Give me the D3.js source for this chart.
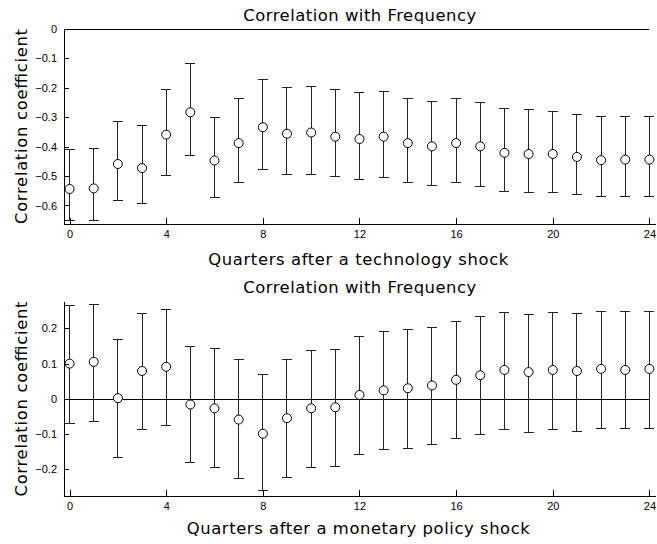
<!DOCTYPE html>
<html lang="en">
<head>
<meta charset="utf-8">
<title>Correlation with Frequency</title>
<script src="https://cdn.jsdelivr.net/npm/d3@7"></script>
<style>
  body { margin: 0; background: #fff; }
  .title, .xlabel, .ylabel { font-family: "DejaVu Sans", sans-serif; font-size: 16.4px; fill: #000; }
  .tick text { font-family: "Liberation Sans", Arial, sans-serif; font-size: 11px; fill: #000; }
  .tick line, .axisline, .zero { stroke: #000; stroke-width: 1; shape-rendering: crispEdges; }
  .bar, .cap { stroke: #222; stroke-width: 1; shape-rendering: crispEdges; }
  .pt { fill: #fff; stroke: #000; stroke-width: 1; }
</style>
</head>
<body>
<script>
var w = 657, h = 544;

var quarters = d3.range(0, 25);
var xTicks = [0, 4, 8, 12, 16, 20, 24];

// technology shock
var techMean  = [-0.544, -0.542, -0.459, -0.473, -0.359, -0.283, -0.447, -0.388, -0.334, -0.356, -0.352, -0.366, -0.374,
                 -0.366, -0.388, -0.399, -0.388, -0.399, -0.421, -0.425, -0.425, -0.435, -0.446, -0.444, -0.444];
var techUpper = [-0.410, -0.407, -0.316, -0.327, -0.205, -0.116, -0.300, -0.236, -0.172, -0.198, -0.195, -0.207, -0.216,
                 -0.212, -0.237, -0.246, -0.237, -0.249, -0.271, -0.274, -0.280, -0.290, -0.298, -0.298, -0.298];
var techLower = [-0.651, -0.651, -0.582, -0.592, -0.497, -0.431, -0.574, -0.523, -0.476, -0.493, -0.493, -0.502, -0.510,
                 -0.506, -0.523, -0.531, -0.523, -0.535, -0.554, -0.557, -0.557, -0.564, -0.571, -0.571, -0.571];
var techYTicks = [0, -0.1, -0.2, -0.3, -0.4, -0.5, -0.6];

// monetary policy shock
var monMean  = [0.100, 0.105, 0.002, 0.079, 0.091, -0.016, -0.027, -0.059, -0.099, -0.055, -0.027, -0.024, 0.011,
                0.024, 0.030, 0.038, 0.054, 0.067, 0.082, 0.076, 0.082, 0.079, 0.085, 0.082, 0.085];
var monUpper = [0.264, 0.268, 0.169, 0.242, 0.254, 0.150, 0.142, 0.112, 0.069, 0.112, 0.138, 0.141, 0.177,
                0.191, 0.197, 0.203, 0.221, 0.233, 0.245, 0.240, 0.245, 0.242, 0.249, 0.249, 0.249];
var monLower = [-0.071, -0.064, -0.168, -0.088, -0.076, -0.182, -0.195, -0.225, -0.261, -0.223, -0.195, -0.192, -0.158,
                -0.144, -0.140, -0.131, -0.113, -0.100, -0.088, -0.095, -0.088, -0.092, -0.085, -0.085, -0.085];
var monYTicks = [0.2, 0.1, 0, -0.1, -0.2];

var svg = d3.select('body').append('svg')
    .attr('width', w)
    .attr('height', h);

var fmt = function(d) { return d === 0 ? '0' : d3.format('.1f')(d).replace('-', '\u2212'); };

function panel(o) {
    var xScale = d3.scaleLinear().domain([-0.23, 24]).range([64, 649.4]);
    var yScale = d3.scaleLinear().domain(o.yDomain).range([o.bottom, o.top]);

    var g = svg.append('g');

    // zero line
    g.append('line').attr('class', 'zero')
        .attr('x1', xScale(-0.23)).attr('x2', xScale(24))
        .attr('y1', Math.round(yScale(0)) + 0.5).attr('y2', Math.round(yScale(0)) + 0.5);

    // error bars
    var bars = g.selectAll('.eb').data(quarters).enter().append('g').attr('class', 'eb');
    bars.append('line').attr('class', 'bar')
        .attr('x1', function(d) { return xScale(d); })
        .attr('x2', function(d) { return xScale(d); })
        .attr('y1', function(d, i) { return yScale(o.upper[i]); })
        .attr('y2', function(d, i) { return yScale(o.lower[i]); });
    bars.append('line').attr('class', 'cap')
        .attr('x1', function(d) { return xScale(d) - 5; })
        .attr('x2', function(d) { return xScale(d) + 5; })
        .attr('y1', function(d, i) { return yScale(o.upper[i]); })
        .attr('y2', function(d, i) { return yScale(o.upper[i]); });
    bars.append('line').attr('class', 'cap')
        .attr('x1', function(d) { return xScale(d) - 5; })
        .attr('x2', function(d) { return xScale(d) + 5; })
        .attr('y1', function(d, i) { return yScale(o.lower[i]); })
        .attr('y2', function(d, i) { return yScale(o.lower[i]); });
    bars.append('circle').attr('class', 'pt')
        .attr('cx', function(d) { return xScale(d); })
        .attr('cy', function(d, i) { return yScale(o.mean[i]); })
        .attr('r', 4.5);

    // axes
    var xAxis = d3.axisBottom(xScale).tickValues(xTicks).tickSize(-6).tickPadding(6.5).tickFormat(d3.format('d'));
    var xg = g.append('g').attr('transform', 'translate(0,' + o.bottom + ')').call(xAxis);
    xg.select('.domain').remove();
    g.append('line').attr('class', 'axisline')
        .attr('x1', 64).attr('x2', 656)
        .attr('y1', o.bottom + 0.5).attr('y2', o.bottom + 0.5);

    var yAxis = d3.axisLeft(yScale).tickValues(o.yTicks).tickSize(-5).tickPadding(7).tickFormat(fmt);
    var yg = g.append('g').attr('transform', 'translate(64,0)').call(yAxis);
    yg.select('.domain').remove();
    g.append('line').attr('class', 'axisline')
        .attr('x1', 64.5).attr('x2', 64.5)
        .attr('y1', o.top).attr('y2', o.bottom + 1);

    // labels
    g.append('text').attr('class', 'title')
        .attr('x', 359.7).attr('y', o.titleY)
        .attr('text-anchor', 'middle')
        .attr('textLength', 233).attr('lengthAdjust', 'spacing')
        .text('Correlation with Frequency');
    g.append('text').attr('class', 'xlabel')
        .attr('x', 358.3).attr('y', o.xLabelY)
        .attr('text-anchor', 'middle')
        .attr('textLength', o.xLabelLen).attr('lengthAdjust', 'spacing')
        .text(o.xLabel);
    g.append('text').attr('class', 'ylabel')
        .attr('transform', 'translate(27,' + ((o.top + o.bottom) / 2) + ') rotate(-90)')
        .attr('text-anchor', 'middle')
        .attr('textLength', 195).attr('lengthAdjust', 'spacing')
        .text('Correlation coefficient');
}

panel({ top: 29, bottom: 224, yDomain: [-0.663, 0], yTicks: techYTicks,
        mean: techMean, upper: techUpper, lower: techLower,
        titleY: 20.7, xLabelY: 265, xLabelLen: 300,
        xLabel: 'Quarters after a technology shock' });

panel({ top: 302, bottom: 496, yDomain: [-0.276, 0.275], yTicks: monYTicks,
        mean: monMean, upper: monUpper, lower: monLower,
        titleY: 292.7, xLabelY: 534.3, xLabelLen: 343,
        xLabel: 'Quarters after a monetary policy shock' });
</script>
</body>
</html>
